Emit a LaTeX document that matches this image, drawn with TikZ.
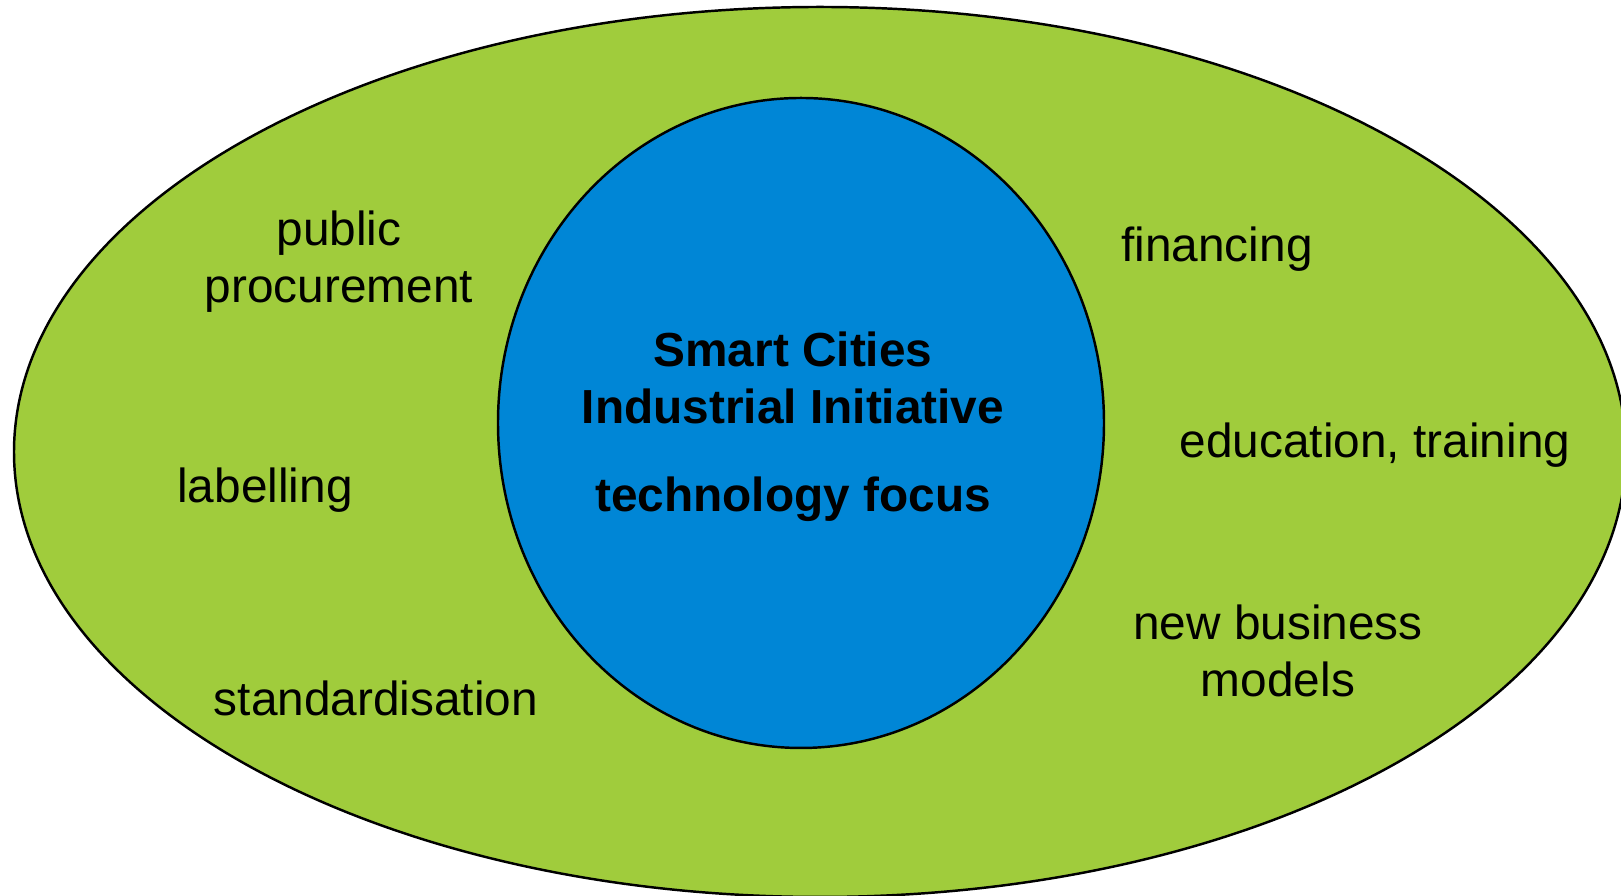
\documentclass[tikz,border=0pt]{standalone}
\usepackage{fontspec}
\setmainfont{Liberation Sans}
\usepackage{xcolor}
\usepackage{tikz}
\definecolor{bg}{HTML}{FFFFFF}
\definecolor{outer}{HTML}{A0CC3C}
\definecolor{inner}{HTML}{0086D6}
\definecolor{text}{HTML}{000000}
\tikzset{
  ring/.style={draw=text, line width=0.7pt},
  lab/.style={text=text, font=\fontsize{13.6}{16.2}\selectfont, align=center, inner sep=0pt},
  labb/.style={lab, font=\fontsize{13.6}{16.2}\selectfont\bfseries}
}
\begin{document}
\begin{tikzpicture}
  \useasboundingbox (0,0) rectangle (16.21,8.96);
  \coordinate (O) at (8.20,4.44);
  \coordinate (C) at (8.01,4.73);
  \draw[ring, fill=outer] (O) ellipse [x radius=8.06cm, y radius=4.45cm];
  \draw[ring, fill=inner] (C) ellipse [x radius=3.03cm, y radius=3.25cm];
  % core
  \node[labb] (sci) at (7.93,5.18) {Smart Cities\\Industrial Initiative};
  \node[labb] (tech) at (7.93,3.97) {technology focus};
  % left side
  \node[lab] (proc) at (3.39,6.34) {public\\procurement};
  \node[lab] (label) at (2.65,4.06) {labelling};
  \node[lab] (std) at (3.76,1.98) {standardisation};
  % right side
  \node[lab] (fin) at (12.17,6.47) {financing};
  \node[lab] (edu) at (13.75,4.51) {education, training};
  \node[lab] (biz) at (12.78,2.45) {new business\\models};
\end{tikzpicture}
\end{document}
